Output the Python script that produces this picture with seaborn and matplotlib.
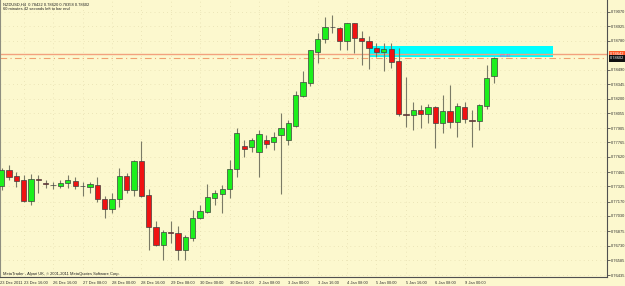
import numpy as np
import pandas as pd
import matplotlib
matplotlib.use("Agg")
import matplotlib.pyplot as plt
from matplotlib.patches import Rectangle
import seaborn as sns

# ---- data (NZDUSD H4) ----
opens = [0.77327, 0.77487, 0.77427, 0.77387, 0.77180, 0.77400, 0.77354, 0.77337, 0.77330, 0.77360,
         0.77377, 0.77324, 0.77320, 0.77340, 0.77197, 0.77094, 0.77194, 0.77427, 0.77290, 0.77580,
         0.77234, 0.76914, 0.76737, 0.76864, 0.76860, 0.76687, 0.76810, 0.77010, 0.77070, 0.77204,
         0.77250, 0.77294, 0.77494, 0.77727, 0.77717, 0.77667, 0.77787, 0.77767, 0.77837, 0.77787,
         0.77927, 0.78227, 0.78360, 0.78670, 0.78794, 0.78917, 0.78910, 0.78780, 0.78954, 0.78804,
         0.78780, 0.78704, 0.78665, 0.78694, 0.78580, 0.78044, 0.78037, 0.78084, 0.78047, 0.78114,
         0.77954, 0.78080, 0.77964, 0.78120, 0.77987, 0.77980, 0.78130, 0.78422]
highs = [0.77507, 0.77537, 0.77467, 0.77437, 0.77447, 0.77437, 0.77387, 0.77367, 0.77387, 0.77437,
         0.77420, 0.77370, 0.77370, 0.77414, 0.77227, 0.77254, 0.77510, 0.77460, 0.77587, 0.77780,
         0.77292, 0.76980, 0.76887, 0.76977, 0.76927, 0.76837, 0.77087, 0.77137, 0.77347, 0.77287,
         0.77337, 0.77587, 0.77907, 0.77787, 0.77807, 0.77887, 0.77837, 0.77867, 0.78057, 0.77987,
         0.78280, 0.78477, 0.78690, 0.78854, 0.79020, 0.79037, 0.78920, 0.78960, 0.78960, 0.78877,
         0.78827, 0.78754, 0.78754, 0.78754, 0.78704, 0.78420, 0.78170, 0.78137, 0.78147, 0.78127,
         0.78237, 0.78337, 0.78160, 0.78170, 0.78087, 0.78147, 0.78537, 0.78620]
lows = [0.77287, 0.77387, 0.77317, 0.77167, 0.77137, 0.77257, 0.77307, 0.77297, 0.77310, 0.77310,
        0.77294, 0.77227, 0.77254, 0.77170, 0.77004, 0.77054, 0.77114, 0.77254, 0.77227, 0.77214,
        0.76687, 0.76727, 0.76587, 0.76754, 0.76587, 0.76587, 0.76780, 0.76994, 0.77054, 0.77137,
        0.77054, 0.77204, 0.77420, 0.77620, 0.77667, 0.77420, 0.77707, 0.77687, 0.77244, 0.77737,
        0.77920, 0.78214, 0.78327, 0.78560, 0.78760, 0.78854, 0.78687, 0.78687, 0.78654, 0.78537,
        0.78494, 0.78620, 0.78480, 0.78504, 0.78027, 0.77920, 0.77887, 0.77904, 0.77960, 0.77704,
        0.77860, 0.77904, 0.77820, 0.77954, 0.77720, 0.77887, 0.78097, 0.78358]
closes = [0.77487, 0.77420, 0.77377, 0.77180, 0.77400, 0.77384, 0.77344, 0.77336, 0.77360, 0.77387,
          0.77327, 0.77323, 0.77344, 0.77194, 0.77097, 0.77197, 0.77424, 0.77287, 0.77574, 0.77227,
          0.76914, 0.76737, 0.76870, 0.76857, 0.76687, 0.76814, 0.77010, 0.77077, 0.77214, 0.77254,
          0.77294, 0.77494, 0.77857, 0.77697, 0.77787, 0.77847, 0.77747, 0.77817, 0.77907, 0.77957,
          0.78237, 0.78370, 0.78687, 0.78794, 0.78914, 0.78916, 0.78777, 0.78954, 0.78810, 0.78780,
          0.78704, 0.78667, 0.78694, 0.78570, 0.78044, 0.78034, 0.78087, 0.78047, 0.78120, 0.77954,
          0.78080, 0.77964, 0.78124, 0.77997, 0.77977, 0.78134, 0.78404, 0.78602]

x_tick_pos = [3, 7, 11, 15, 19, 23, 27, 31, 35, 39, 43, 47, 51, 55, 59, 63]
x_tick_labels = ["23 Dec 16:00", "26 Dec 16:00", "27 Dec 08:00", "28 Dec 00:00", "28 Dec 16:00",
                 "29 Dec 08:00", "30 Dec 00:00", "30 Dec 16:00", "2 Jan 08:00", "3 Jan 00:00",
                 "3 Jan 16:00", "4 Jan 08:00", "5 Jan 00:00", "5 Jan 16:00", "6 Jan 08:00", "9 Jan 00:00"]
first_label = "23 Dec 2011"
y_tick_values = [0.79070, 0.78925, 0.78780, 0.78490, 0.78345, 0.78200, 0.78055, 0.77905, 0.77765,
                 0.77620, 0.77465, 0.77325, 0.77170, 0.77030, 0.76875, 0.76730, 0.76585, 0.76435]
y_tick_labels = ["%.5f" % v for v in y_tick_values]

hline_price = 0.78642
bid_price = 0.78602
zone_start, zone_end = 50, 75
zone_low, zone_high = 0.78620, 0.78727
zone_text = "+60.42"

header1 = "NZDUSD,H4  0.78422 0.78620 0.78358 0.78602"
header2 = "60 minutes 42 seconds left to bar end"
footer = "MetaTrader - Alpari UK, \u00a9 2001-2011 MetaQuotes Software Corp."

# ---- style ----
sns.set_theme(style="white")
plt.rcParams['font.family'] = ['Liberation Sans', 'DejaVu Sans']
bg = '#FCF8CE'
fs = 2.9

fig = plt.figure(figsize=(6.25, 2.86), dpi=100, facecolor=bg)
ax = fig.add_axes([0, 9 / 286, 607 / 625, 277 / 286], facecolor=bg)

df = pd.DataFrame(dict(o=opens, h=highs, l=lows, c=closes))
df['i'] = np.arange(len(df))
up = df.c >= df.o

# grid (faint dotted)
for v in y_tick_values:
    ax.axhline(v, color='#DDD4A4', lw=0.5, ls=(0, (1, 5)), zorder=0)
for p in x_tick_pos:
    ax.axvline(p, color='#DDD4A4', lw=0.5, ls=(0, (1, 5)), zorder=0)

# zone rectangle
ax.add_patch(Rectangle((zone_start, zone_low), zone_end - zone_start, zone_high - zone_low,
                       facecolor='#00FFFF', edgecolor='none', zorder=1))
ax.axhline(hline_price, color='#F2A27E', lw=1.0, zorder=1.5)
ax.axhline(bid_price, color='#F0A070', lw=0.8, ls=(0, (6, 3, 1, 3)), zorder=1.5)
ax.text(67.6, bid_price + 0.00004, zone_text, color='#E040E0', fontsize=fs, va='bottom', ha='left', zorder=4)

# candles
ax.vlines(df.i, df.l, df.h, color='#7A7A66', lw=0.8, zorder=2)
bottom = np.minimum(df.o, df.c)
height = np.maximum((df.c - df.o).abs(), 1e-6)
colors = np.where(up, '#1CF01C', '#F01212')
ax.bar(df.i, height, bottom=bottom, width=0.72, color=colors, edgecolor='#404040',
       linewidth=0.5, zorder=3)

ax.set_xlim(-0.231, 82.37)
ax.set_ylim(0.76417, 0.79187)

# axes styling
ax.spines['top'].set_visible(False)
ax.spines['left'].set_color('#8E8E80')
ax.spines['left'].set_linewidth(0.8)
for s in ['right', 'bottom']:
    ax.spines[s].set_color('#505050')
    ax.spines[s].set_linewidth(0.8)

ax.yaxis.tick_right()
ax.set_yticks(y_tick_values)
ax.set_yticklabels(y_tick_labels)
ax.tick_params(axis='y', length=2, width=0.5, colors='#303030', labelsize=fs, pad=1, direction='out')

ax.set_xticks([-0.231] + x_tick_pos)
ax.set_xticklabels([first_label] + x_tick_labels)
ax.tick_params(axis='x', length=2, width=0.5, colors='#303030', labelsize=fs, pad=1, direction='out')
for lab in ax.get_xticklabels():
    lab.set_ha('left')

# price labels on axis
ax.annotate("0.78642", xy=(1.0, hline_price), xycoords=('axes fraction', 'data'),
            xytext=(2, 0), textcoords='offset points', fontsize=fs, color='white',
            va='center', ha='left',
            bbox=dict(boxstyle='square,pad=0.25', fc='#FF5522', ec='none'))
ax.annotate("0.78602", xy=(1.0, bid_price), xycoords=('axes fraction', 'data'),
            xytext=(2, 0), textcoords='offset points', fontsize=fs, color='white',
            va='center', ha='left',
            bbox=dict(boxstyle='square,pad=0.25', fc='#101010', ec='none'))

# header / footer texts
ax.text(3 / 607, 1 - 4.3 / 277, header1, transform=ax.transAxes, fontsize=fs, color='#202020', va='center')
ax.text(3 / 607, 1 - 8.5 / 277, header2, transform=ax.transAxes, fontsize=fs, color='#202020', va='center')
ax.text(3 / 607, 3.5 / 277, footer, transform=ax.transAxes, fontsize=fs, color='#202020', va='center')

fig.savefig('out.png', dpi=100, facecolor=bg)
